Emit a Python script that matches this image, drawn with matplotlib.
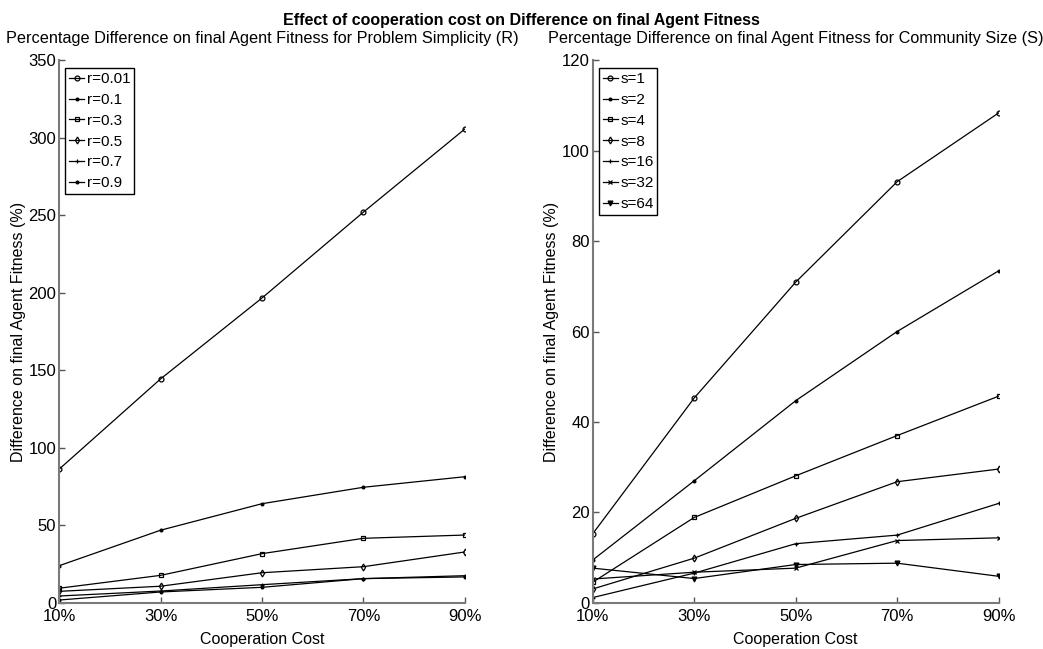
import matplotlib
matplotlib.use("Agg")
import matplotlib.pyplot as plt

plt.rcParams['font.family'] = ['Liberation Sans', 'DejaVu Sans']

cost = [10, 30, 50, 70, 90]
cost_labels = ['10%', '30%', '50%', '70%', '90%']

r_labels = ['r=0.01', 'r=0.1', 'r=0.3', 'r=0.5', 'r=0.7', 'r=0.9']
r_001 = [86.2, 144.4, 196.6, 252.0, 305.6]
r_01 = [24.0, 46.9, 64.0, 74.6, 81.4]
r_03 = [9.5, 17.8, 31.8, 41.7, 43.8]
r_05 = [7.5, 10.8, 19.5, 23.4, 32.9]
r_07 = [4.5, 7.7, 11.8, 15.7, 17.6]
r_09 = [1.9, 7.1, 10.1, 15.7, 16.8]
r_series = [r_001, r_01, r_03, r_05, r_07, r_09]
r_markers = ['o', '.', 's', 'd', '+', '.']

s_labels = ['s=1', 's=2', 's=4', 's=8', 's=16', 's=32', 's=64']
s_1 = [15.3, 45.3, 70.9, 93.1, 108.3]
s_2 = [9.5, 27.0, 44.7, 60.0, 73.4]
s_4 = [4.6, 18.9, 28.1, 37.0, 45.7]
s_8 = [3.1, 9.9, 18.7, 26.8, 29.6]
s_16 = [1.2, 6.6, 13.1, 15.0, 22.0]
s_32 = [5.3, 6.8, 7.7, 13.8, 14.4]
s_64 = [7.7, 5.4, 8.5, 8.8, 5.9]
s_series = [s_1, s_2, s_4, s_8, s_16, s_32, s_64]
s_markers = ['o', '.', 's', 'd', '+', 'x', 'v']

fig = plt.figure(figsize=(10.43, 6.49), dpi=100)
ax1 = fig.add_axes([0.0566, 0.0709, 0.3892, 0.8366])
ax2 = fig.add_axes([0.5683, 0.0709, 0.3891, 0.8366])

def style(ax, ylim, yticks, title):
    ax.set_xlim(10, 90)
    ax.set_ylim(*ylim)
    ax.set_xticks(cost)
    ax.set_xticklabels(cost_labels)
    ax.set_yticks(yticks)
    for sp in ['top', 'right']:
        ax.spines[sp].set_visible(False)
    for sp in ['left', 'bottom']:
        ax.spines[sp].set_color('#7a7a7a')
        ax.spines[sp].set_linewidth(1.5)
    ax.tick_params(direction='in', length=4, width=1, color='#555555',
                   labelsize=12, pad=2)
    ax.tick_params(axis='x', pad=4)
    ax.set_xlabel('Cooperation Cost', fontsize=11.5, labelpad=6)
    ax.set_ylabel('Difference on final Agent Fitness (%)', fontsize=11.5, labelpad=2)
    ax.set_title(title, fontsize=11.7, pad=12)
    ax.legend(loc='upper left', bbox_to_anchor=(0.015, 0.985), fontsize=11,
              frameon=True, fancybox=False, edgecolor='black', framealpha=1,
              handlelength=1.0, handletextpad=0.15, borderpad=0.25,
              labelspacing=0.45, borderaxespad=0)
    ax.get_legend().get_frame().set_linewidth(1.0)

for vals, m, lab in zip(r_series, r_markers, r_labels):
    ax1.plot(cost, vals, color='black', lw=0.9, marker=m, ms=3.5 if m != '.' else 4,
             mfc='none' if m in 'osd' else 'black', mew=0.9, label=lab)
for vals, m, lab in zip(s_series, s_markers, s_labels):
    ax2.plot(cost, vals, color='black', lw=0.9, marker=m, ms=3.5 if m != '.' else 4,
             mfc='none' if m in 'osd' else 'black', mew=0.9, label=lab)

style(ax1, (0, 350), [0, 50, 100, 150, 200, 250, 300, 350],
      'Percentage Difference on final Agent Fitness for Problem Simplicity (R)')
style(ax2, (0, 120), [0, 20, 40, 60, 80, 100, 120],
      'Percentage Difference on final Agent Fitness for Community Size (S)')

fig.text(0.5, 0.969, 'Effect of cooperation cost on Difference on final Agent Fitness',
         ha='center', va='center', fontsize=11.5, fontweight='bold')

fig.savefig('out.png', dpi=100)
